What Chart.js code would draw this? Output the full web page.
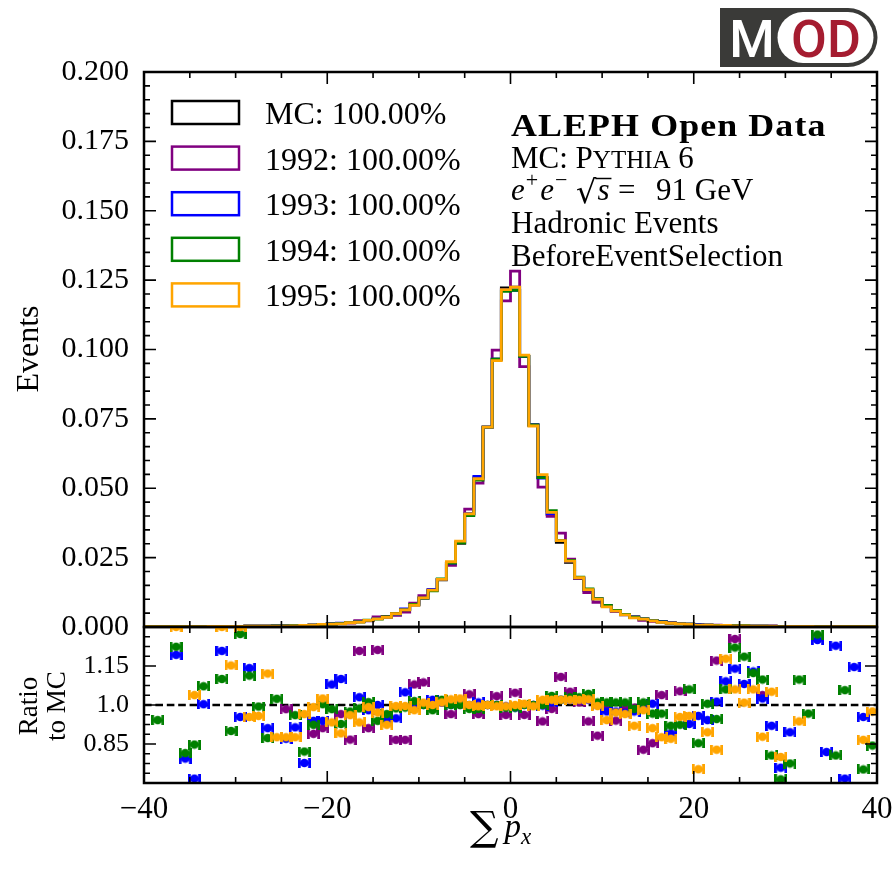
<!DOCTYPE html>
<html>
<head>
<meta charset="utf-8">
<script src="https://cdn.jsdelivr.net/npm/chart.js@4.4.1/dist/chart.umd.min.js"></script>
<style>
  html, body { margin: 0; padding: 0; background: #fff; }
  #wrap { position: relative; width: 893px; height: 873px; }
  #wrap canvas { position: absolute; left: 0; top: 0; }
</style>
</head>
<body>
<div id="wrap">
  <canvas id="mainChart" width="893" height="873"></canvas>
  <canvas id="ratioChart" width="893" height="873"></canvas>
</div>
<script>
// bin edges of the sum p_x histogram (GeV)
const binEdges = [-40, -39, -38, -37, -36, -35, -34, -33, -32, -31, -30, -29, -28, -27, -26, -25, -24, -23, -22, -21,
  -20, -19, -18, -17, -16, -15, -14, -13, -12, -11, -10, -9, -8, -7, -6, -5, -4, -3, -2, -1,
  0, 1, 2, 3, 4, 5, 6, 7, 8, 9, 10, 11, 12, 13, 14, 15, 16, 17, 18, 19,
  20, 21, 22, 23, 24, 25, 26, 27, 28, 29, 30, 31, 32, 33, 34, 35, 36, 37, 38, 39, 40];

// normalised MC histogram, one value per bin
const mcHist = [0.0001, 0.0001, 0.0001, 0.0001, 0.0001, 0.0001, 0.0001, 0.0002, 0.0002, 0.0002,
  0.0002, 0.0003, 0.0003, 0.0003, 0.0004, 0.0004, 0.0005, 0.0006, 0.0007, 0.0009,
  0.0011, 0.0013, 0.0016, 0.0019, 0.0024, 0.0030, 0.0038, 0.0048, 0.0062, 0.0080,
  0.0104, 0.0133, 0.0170, 0.0230, 0.0302, 0.0408, 0.0537, 0.0720, 0.0965, 0.1222,
  0.1225, 0.0975, 0.0728, 0.0538, 0.0405, 0.0305, 0.0233, 0.0174, 0.0132, 0.0101,
  0.0077, 0.0059, 0.0045, 0.0036, 0.0029, 0.0024, 0.0019, 0.0015, 0.0012, 0.0010,
  0.0008, 0.0007, 0.0006, 0.0005, 0.0004, 0.0004, 0.0003, 0.0003, 0.0003, 0.0002,
  0.0002, 0.0002, 0.0002, 0.0001, 0.0001, 0.0001, 0.0001, 0.0001, 0.0001, 0.0001];

// data / MC ratio per bin (null = outside the shown range)
const ratio1992 = [null, null, null, null, null, null, null, null, null, null,
  null, null, null, null, null, 0.984, null, null, 0.889, 0.911,
  null, 0.965, 0.867, 1.208, 0.911, 1.212, 0.939, 0.866, 0.866, 1.079,
  1.087, 1.00, 1.01, 0.965, 1.00, 1.041, 0.965, 1.00, 1.034, 0.962,
  1.047, 0.962, 1.00, 0.937, 0.985, 1.108, 1.051, 1.01, 0.937, 0.882,
  0.99, 0.94, 0.99, 0.99, 0.828, 0.853, 1.038, null, 1.053, null,
  null, null, 1.171, null, 1.254, null, null, 1.038, null, null,
  null, null, null, null, null, null, null, null, null, null];
const ratio1993 = [null, null, null, 1.193, 0.794, 0.717, 1.003, null, 1.208, null,
  0.954, 1.142, null, 0.911, null, 0.870, 0.914, 0.777, 0.939, 0.939,
  1.079, 1.10, 0.965, 1.030, 0.98, 1.00, 0.94, 0.949, 1.049, 1.00,
  1.00, 1.02, 1.01, 1.00, 1.01, 1.00, 1.01, 1.00, 1.00, 0.995,
  0.99, 1.00, 1.00, 0.998, 1.01, 1.02, 1.02, 1.02, 1.02, 1.00,
  0.975, 0.975, 0.97, 0.975, 1.00, 1.005, null, 0.891, null, 0.927,
  0.958, 0.942, 1.013, 1.091, 1.14, 1.081, 1.129, 1.025, 0.92, 0.759,
  0.895, null, null, 1.25, 0.819, 1.228, 0.717, 1.146, 0.954, null];
const ratio1994 = [null, 0.942, null, 1.224, 0.815, 0.848, 1.072, null, 1.10, 0.90,
  1.273, 1.113, 0.994, 0.873, 1.024, null, 0.961, 0.821, 0.924, 1.003,
  0.984, 0.927, 0.975, 0.987, 1.011, 0.939, 0.965, 0.987, 0.99, 1.015,
  1.00, 0.98, 1.02, 1.00, 1.00, 0.985, 0.985, 1.00, 1.00, 0.99,
  0.99, 1.00, 1.00, 1.00, 1.035, 1.02, 1.03, 1.03, 1.043, 1.01,
  1.01, 1.01, 1.01, 0.985, 1.01, 0.967, 0.967, 0.92, 0.924, 1.06,
  0.853, 1.005, 0.946, 1.06, 1.221, 1.186, 1.123, 1.098, 0.806, 0.714,
  0.775, 1.098, 0.967, 1.271, null, 0.806, 1.057, null, 0.752, 0.844];
const ratio1995 = [null, null, null, 1.30, null, 1.038, null, null, 1.30, 1.152,
  1.30, 0.954, 0.958, 1.121, 0.876, 0.876, 0.876, 0.965, 0.992, 1.025,
  0.933, 0.891, 0.961, 0.933, 0.992, 0.971, 0.924, 0.996, 0.996, 0.98,
  1.009, 1.00, 1.01, 1.022, 1.025, 1.00, 0.995, 1.00, 0.995, 0.995,
  1.00, 1.005, 0.995, 1.02, 1.02, 1.02, 1.02, 1.02, 1.022, 0.996,
  0.942, 0.971, 0.965, 0.92, 0.98, 0.911, 0.876, 0.87, 0.954, 0.958,
  0.753, 0.895, 0.828, 1.178, 1.06, 1.009, 1.06, 0.878, 1.051, 0.80,
  null, 0.937, null, null, null, null, null, null, 0.866, 0.975];

const seriesNames = ['1992', '1993', '1994', '1995'];
const seriesRatios = [ratio1992, ratio1993, ratio1994, ratio1995];
const seriesColors = ['#800080', '#0000ff', '#008000', '#ffa500'];
const mcColor = '#000000';
const legendLabels = ['MC: 100.00%', '1992: 100.00%', '1993: 100.00%', '1994: 100.00%', '1995: 100.00%'];
const ratioReference = 1.0;

// axis ticks
const xMajorTicks = [-40, -20, 0, 20, 40];
const xTickLabels = ['\u221240', '\u221220', '0', '20', '40'];
const xMinorTicks = [-35, -30, -25, -15, -10, -5, 5, 10, 15, 25, 30, 35];
const yMainTicks = [0, 0.025, 0.05, 0.075, 0.1, 0.125, 0.15, 0.175, 0.2];
const yMainTickLabels = ['0.000', '0.025', '0.050', '0.075', '0.100', '0.125', '0.150', '0.175', '0.200'];
const yMainMinor = [0.005, 0.01, 0.015, 0.02, 0.03, 0.035, 0.04, 0.045, 0.055, 0.06, 0.065, 0.07,
  0.08, 0.085, 0.09, 0.095, 0.105, 0.11, 0.115, 0.12, 0.13, 0.135, 0.14, 0.145,
  0.155, 0.16, 0.165, 0.17, 0.18, 0.185, 0.19, 0.195];
const yRatioTicks = [0.85, 1.0, 1.15];
const yRatioTickLabels = ['0.85', '1.0', '1.15'];
const yRatioMinor = [0.7375, 0.775, 0.8125, 0.8875, 0.925, 0.9625, 1.0375, 1.075, 1.1125, 1.1875, 1.225, 1.2625];

const SERIF = '"Liberation Serif", "Times New Roman", serif';
Chart.defaults.font.family = SERIF;
Chart.defaults.color = '#000';

function stepPoints(values) {
    const last = binEdges.length - 1;
    const pts = [{ x: binEdges[0], y: 0 }];
    values.forEach((v, i) => pts.push({ x: binEdges[i], y: v }));
    pts.push({ x: binEdges[last], y: values[values.length - 1] });
    pts.push({ x: binEdges[last], y: 0 });
    return pts;
}

function ratioPoints(ratios) {
    const pts = [];
    ratios.forEach((r, i) => {
        if (r !== null) pts.push({ x: (binEdges[i] + binEdges[i + 1]) / 2, y: r });
    });
    return pts;
}

function makeMarker(color) {
    const c = document.createElement('canvas');
    c.width = 13;
    c.height = 10;
    const g = c.getContext('2d');
    g.fillStyle = color;
    g.fillRect(0, 0, 2.8, 10);
    g.fillRect(10.2, 0, 2.8, 10);
    g.fillRect(0, 3.8, 13, 2.4);
    g.beginPath();
    g.arc(6.5, 5, 4.3, 0, Math.PI * 2);
    g.fill();
    return c;
}

function drawFrame(chart, yMajor, yMinor) {
    const { ctx, chartArea: a, scales } = chart;
    ctx.save();
    ctx.strokeStyle = '#000';
    ctx.lineWidth = 1.6;
    ctx.beginPath();
    const xTick = (v, len) => {
        const px = scales.x.getPixelForValue(v);
        ctx.moveTo(px, a.bottom); ctx.lineTo(px, a.bottom - len);
        ctx.moveTo(px, a.top); ctx.lineTo(px, a.top + len);
    };
    const yTick = (v, len) => {
        const py = scales.y.getPixelForValue(v);
        ctx.moveTo(a.left, py); ctx.lineTo(a.left + len, py);
        ctx.moveTo(a.right, py); ctx.lineTo(a.right - len, py);
    };
    xMajorTicks.forEach(v => xTick(v, 12));
    xMinorTicks.forEach(v => xTick(v, 6));
    yMajor.forEach(v => yTick(v, 12));
    yMinor.forEach(v => yTick(v, 6));
    ctx.stroke();
    ctx.lineWidth = 2.5;
    ctx.strokeRect(a.left, a.top, a.right - a.left, a.bottom - a.top);
    ctx.restore();
}

function run(ctx, text, x, y, font) {
    ctx.font = font;
    ctx.fillText(text, x, y);
    return x + ctx.measureText(text).width;
}

function drawLegend(ctx) {
    const colors = [mcColor].concat(seriesColors);
    ctx.save();
    ctx.textBaseline = 'alphabetic';
    ctx.textAlign = 'left';
    legendLabels.forEach((label, i) => {
        const cy = 112.5 + i * 45.6;
        ctx.strokeStyle = colors[i];
        ctx.lineWidth = 2.5;
        ctx.strokeRect(172, cy - 11.5, 67, 23);
        ctx.fillStyle = '#000';
        ctx.font = '32px ' + SERIF;
        ctx.fillText(label, 265, cy + 11.5);
    });
    ctx.restore();
}

function drawInfo(ctx) {
    ctx.save();
    ctx.fillStyle = '#000';
    ctx.strokeStyle = '#000';
    ctx.textBaseline = 'alphabetic';
    ctx.textAlign = 'left';
    const reg = '31px ' + SERIF;
    const ita = 'italic 31px ' + SERIF;
    const sup = '22px ' + SERIF;

    ctx.save();
    ctx.translate(511, 136);
    ctx.scale(1.12, 1);
    ctx.font = 'bold 32px ' + SERIF;
    ctx.letterSpacing = '1px';
    ctx.fillText('ALEPH Open Data', 0, 0);
    ctx.restore();

    let x = run(ctx, 'MC: P', 511, 168, reg);
    x = run(ctx, 'YTHIA', x, 168, '25px ' + SERIF);
    run(ctx, ' 6', x, 168, reg);

    // e+ e- sqrt(s) = 91 GeV
    x = run(ctx, 'e', 511, 200, ita);
    x = run(ctx, '+', x + 1, 187, sup);
    x = run(ctx, 'e', x + 2, 200, ita);
    run(ctx, '\u2212', x + 1, 187, sup);
    const rx = run(ctx, '\u221a', 576, 203, '32px "DejaVu Serif", ' + SERIF);
    const ex = run(ctx, 's', rx + 1, 200, ita);
    ctx.lineWidth = 1.5;
    ctx.beginPath();
    ctx.moveTo(rx - 1, 178.5);
    ctx.lineTo(ex + 2, 178.5);
    ctx.stroke();
    run(ctx, '=', 618, 200, reg);
    run(ctx, '91 GeV', 656, 200, reg);

    run(ctx, 'Hadronic Events', 511, 233, reg);
    run(ctx, 'BeforeEventSelection', 511, 266, reg);
    ctx.restore();
}

function drawLogo(ctx) {
    ctx.save();
    ctx.fillStyle = '#3a3a38';
    ctx.beginPath();
    ctx.moveTo(720, 8);
    ctx.lineTo(848, 8);
    ctx.arc(848, 37.5, 29.5, -Math.PI / 2, Math.PI / 2);
    ctx.lineTo(720, 67);
    ctx.closePath();
    ctx.fill();
    ctx.fillStyle = '#ffffff';
    ctx.beginPath();
    ctx.moveTo(803, 12);
    ctx.lineTo(848, 12);
    ctx.arc(848, 37.5, 25.5, -Math.PI / 2, Math.PI / 2);
    ctx.lineTo(803, 63);
    ctx.arc(803, 37.5, 25.5, Math.PI / 2, Math.PI * 1.5);
    ctx.fill();
    ctx.textBaseline = 'alphabetic';
    ctx.textAlign = 'center';
    ctx.font = '500 52px Roboto, "Liberation Sans", sans-serif';
    ctx.fillText('M', 752, 57);
    ctx.fillStyle = '#a51c30';
    ctx.fillText('OD', 826, 57);
    ctx.restore();
}

function drawMainTitles(ctx) {
    ctx.save();
    ctx.fillStyle = '#000';
    ctx.textAlign = 'center';
    ctx.textBaseline = 'middle';
    ctx.font = '32px ' + SERIF;
    ctx.translate(30, 349);
    ctx.rotate(-Math.PI / 2);
    ctx.fillText('Events', 0, 0);
    ctx.restore();
}

function drawRatioTitles(ctx) {
    ctx.save();
    ctx.fillStyle = '#000';
    ctx.textAlign = 'center';
    ctx.textBaseline = 'middle';
    ctx.font = '27px ' + SERIF;
    ctx.save();
    ctx.translate(30, 706);
    ctx.rotate(-Math.PI / 2);
    ctx.fillText('Ratio', 0, 0);
    ctx.restore();
    ctx.save();
    ctx.translate(58, 706);
    ctx.rotate(-Math.PI / 2);
    ctx.fillText('to MC', 0, 0);
    ctx.restore();

    // x-axis title: sum p_x
    ctx.textAlign = 'left';
    ctx.textBaseline = 'alphabetic';
    let x = run(ctx, '\u2211', 470, 840, '40px "DejaVu Serif", ' + SERIF);
    x = run(ctx, 'p', x + 6, 837, 'italic 33px ' + SERIF);
    run(ctx, 'x', x, 844, 'italic 23px ' + SERIF);
    ctx.restore();
}

const mainDecor = {
    id: 'mainDecor',
    afterDraw(chart) {
        drawFrame(chart, yMainTicks, yMainMinor);
        drawLegend(chart.ctx);
        drawInfo(chart.ctx);
        drawLogo(chart.ctx);
        drawMainTitles(chart.ctx);
    }
};

const ratioDecor = {
    id: 'ratioDecor',
    afterDraw(chart) {
        drawFrame(chart, yRatioTicks, yRatioMinor);
        drawRatioTitles(chart.ctx);
    }
};

document.addEventListener('DOMContentLoaded', function() {
    initializeMainChart();
    initializeRatioChart();
});

function initializeMainChart() {
    const datasets = [{
        label: 'MC',
        data: stepPoints(mcHist),
        borderColor: mcColor,
        borderWidth: 2.8,
        stepped: true,
        pointRadius: 0,
        fill: false,
        order: 5
    }];
    seriesNames.forEach((name, k) => {
        const hist = mcHist.map((m, i) => seriesRatios[k][i] === null ? m : m * seriesRatios[k][i]);
        datasets.push({
            label: name,
            data: stepPoints(hist),
            borderColor: seriesColors[k],
            borderWidth: 2.8,
            stepped: true,
            pointRadius: 0,
            fill: false,
            order: 4 - k
        });
    });

    new Chart(document.getElementById('mainChart'), {
        type: 'line',
        data: { datasets: datasets },
        options: {
            responsive: false,
            animation: false,
            devicePixelRatio: 1,
            layout: { padding: { left: 0, top: 72, right: 16, bottom: 246 } },
            plugins: { legend: { display: false }, tooltip: { enabled: false } },
            scales: {
                x: { type: 'linear', min: -40, max: 40, display: false },
                y: {
                    type: 'linear',
                    min: 0,
                    max: 0.2,
                    afterFit: s => { s.width = 144; s.paddingTop = 0; s.paddingBottom = 0; },
                    afterBuildTicks: s => { s.ticks = yMainTicks.map(v => ({ value: v })); },
                    grid: { display: false, drawTicks: false },
                    border: { display: false },
                    ticks: {
                        padding: 15,
                        autoSkip: false,
                        color: '#000',
                        font: { size: 30, family: SERIF },
                        callback: (v, i) => yMainTickLabels[i]
                    }
                }
            }
        },
        plugins: [mainDecor]
    });
}

function initializeRatioChart() {
    const datasets = [{
        label: 'ref',
        type: 'line',
        data: [{ x: -40, y: ratioReference }, { x: 40, y: ratioReference }],
        borderColor: '#000',
        borderWidth: 2.4,
        borderDash: [7.6, 3.8],
        pointRadius: 0,
        fill: false,
        order: 10
    }];
    seriesNames.forEach((name, k) => {
        datasets.push({
            label: name,
            type: 'line',
            showLine: false,
            data: ratioPoints(seriesRatios[k]),
            pointStyle: makeMarker(seriesColors[k]),
            pointRadius: 5,
            borderColor: seriesColors[k],
            backgroundColor: seriesColors[k],
            order: 4 - k
        });
    });

    new Chart(document.getElementById('ratioChart'), {
        type: 'line',
        data: { datasets: datasets },
        options: {
            responsive: false,
            animation: false,
            devicePixelRatio: 1,
            layout: { padding: { left: 0, top: 627, right: 16, bottom: 0 } },
            plugins: { legend: { display: false }, tooltip: { enabled: false } },
            scales: {
                x: {
                    type: 'linear',
                    min: -40,
                    max: 40,
                    afterFit: s => { s.height = 90; s.paddingLeft = 0; s.paddingRight = 0; },
                    afterBuildTicks: s => { s.ticks = xMajorTicks.map(v => ({ value: v })); },
                    grid: { display: false, drawTicks: false },
                    border: { display: false },
                    ticks: {
                        padding: 8,
                        autoSkip: false,
                        maxRotation: 0,
                        color: '#000',
                        font: { size: 31, family: SERIF },
                        callback: (v, i) => xTickLabels[i]
                    }
                },
                y: {
                    type: 'linear',
                    min: 0.7,
                    max: 1.3,
                    afterFit: s => { s.width = 144; s.paddingTop = 0; s.paddingBottom = 0; },
                    afterBuildTicks: s => { s.ticks = yRatioTicks.map(v => ({ value: v })); },
                    grid: { display: false, drawTicks: false },
                    border: { display: false },
                    ticks: {
                        padding: 15,
                        autoSkip: false,
                        color: '#000',
                        font: { size: 26, family: SERIF },
                        callback: (v, i) => yRatioTickLabels[i]
                    }
                }
            }
        },
        plugins: [ratioDecor]
    });
}
</script>
</body>
</html>
